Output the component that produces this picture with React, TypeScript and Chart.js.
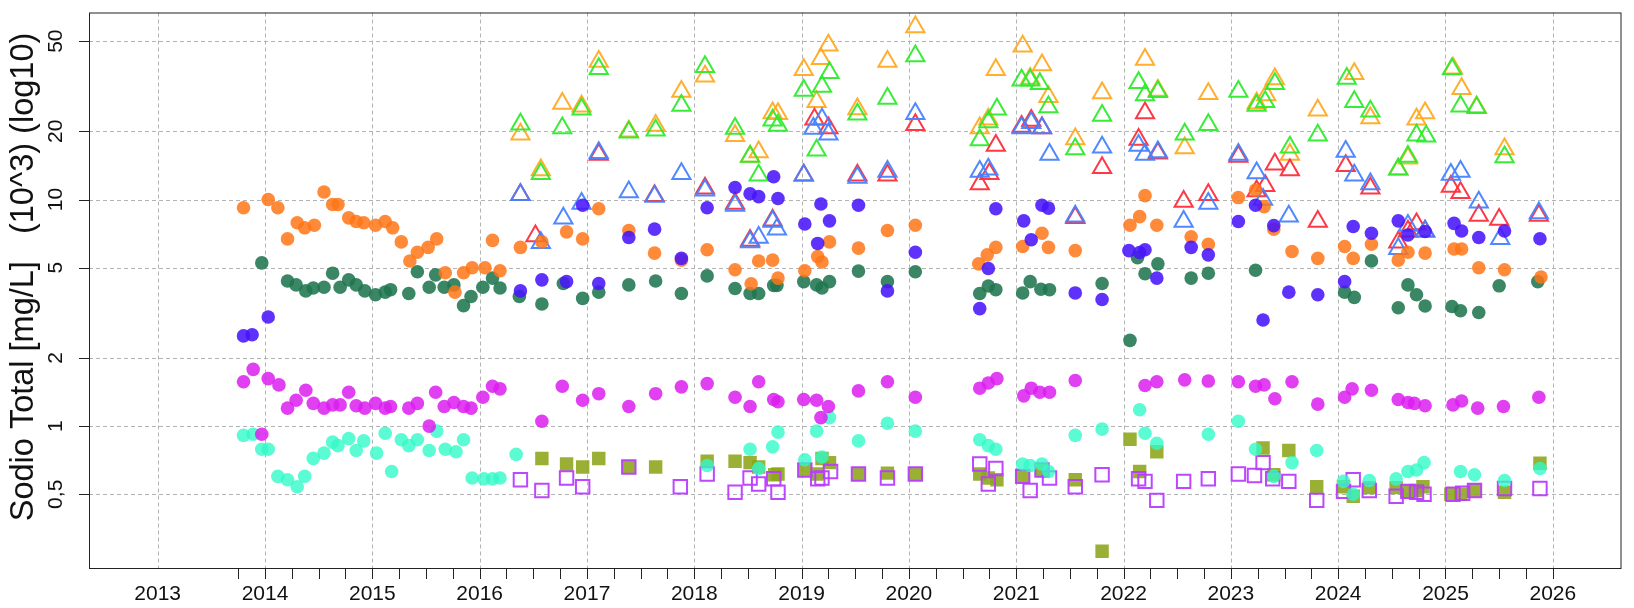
import { useEffect, useRef } from 'react';
import { Chart, registerables } from 'chart.js';

Chart.register(...registerables);

// ---- axis definitions ----
const yearTicks = [2013, 2014, 2015, 2016, 2017, 2018, 2019, 2020, 2021, 2022, 2023, 2024, 2025, 2026];
const yTickValues = [0.5, 1, 2, 5, 10, 20, 50];
const yTickLabels = ['0,5', '1', '2', '5', '10', '20', '50'];
const yTitle = 'Sodio Total [mg/L]   (10^3) (log10)';

// ---- series: orange filled circles ----
const orangeX = [2013.80, 2014.03, 2014.12, 2014.21, 2014.30, 2014.37, 2014.46, 2014.55, 2014.63, 2014.68, 2014.78, 2014.85, 2014.92, 2015.03, 2015.12, 2015.19, 2015.27, 2015.35, 2015.42, 2015.52, 2015.60, 2015.68, 2015.77, 2015.85, 2015.93, 2016.05, 2016.12, 2016.19, 2016.38, 2016.58, 2016.81, 2016.96, 2017.11, 2017.39, 2017.63, 2017.88, 2018.12, 2018.38, 2018.53, 2018.60, 2018.73, 2018.78, 2019.03, 2019.15, 2019.19, 2019.26, 2019.53, 2019.80, 2020.06, 2020.65, 2020.73, 2020.81, 2021.06, 2021.24, 2021.30, 2021.55, 2022.06, 2022.15, 2022.20, 2022.31, 2022.63, 2022.79, 2023.07, 2023.23, 2023.31, 2023.40, 2023.57, 2023.81, 2024.06, 2024.14, 2024.31, 2024.56, 2024.65, 2024.81, 2025.08, 2025.15, 2025.31, 2025.55, 2025.89];
const orangeY = [9.2, 10.0, 9.2, 6.7, 7.9, 7.5, 7.7, 10.8, 9.5, 9.5, 8.3, 8.0, 7.9, 7.7, 8.0, 7.5, 6.5, 5.35, 5.85, 6.15, 6.7, 4.75, 3.9, 4.75, 5.0, 5.0, 6.6, 4.85, 6.15, 6.5, 7.2, 6.7, 9.1, 7.3, 5.8, 5.4, 6.0, 4.9, 4.25, 5.35, 5.4, 4.5, 4.85, 5.6, 5.3, 6.5, 6.1, 7.3, 7.7, 5.2, 5.7, 6.15, 6.2, 7.1, 6.15, 5.95, 7.7, 8.4, 10.4, 7.7, 6.85, 6.35, 10.2, 11.0, 9.3, 7.4, 5.9, 5.5, 6.2, 5.5, 6.35, 5.4, 5.85, 5.8, 6.05, 6.05, 5.0, 4.9, 4.55];

// ---- series: dark green filled circles ----
const greenX = [2013.97, 2014.21, 2014.29, 2014.38, 2014.45, 2014.55, 2014.63, 2014.70, 2014.78, 2014.85, 2014.93, 2015.03, 2015.12, 2015.17, 2015.34, 2015.42, 2015.53, 2015.59, 2015.67, 2015.76, 2015.85, 2015.92, 2016.03, 2016.12, 2016.19, 2016.37, 2016.58, 2016.78, 2016.96, 2017.11, 2017.39, 2017.64, 2017.88, 2018.12, 2018.38, 2018.52, 2018.60, 2018.74, 2018.77, 2019.02, 2019.14, 2019.19, 2019.26, 2019.53, 2019.80, 2020.06, 2020.66, 2020.74, 2020.81, 2021.06, 2021.13, 2021.23, 2021.31, 2021.80, 2022.06, 2022.13, 2022.20, 2022.32, 2022.63, 2022.79, 2023.23, 2024.06, 2024.15, 2024.31, 2024.56, 2024.65, 2024.73, 2024.81, 2025.06, 2025.14, 2025.31, 2025.50, 2025.86];
const greenY = [5.25, 4.37, 4.2, 3.95, 4.07, 4.1, 4.73, 4.1, 4.42, 4.2, 3.95, 3.8, 3.9, 4.0, 3.85, 4.8, 4.1, 4.65, 4.1, 4.2, 3.4, 3.73, 4.1, 4.5, 4.07, 3.73, 3.46, 4.26, 3.66, 3.9, 4.2, 4.37, 3.85, 4.6, 4.05, 3.85, 3.85, 4.18, 4.18, 4.34, 4.2, 4.07, 4.34, 4.83, 4.34, 4.8, 3.85, 4.15, 4.0, 3.87, 4.34, 4.02, 4.0, 4.26, 2.39, 5.54, 4.7, 5.2, 4.5, 4.73, 4.87, 3.9, 3.7, 5.36, 3.33, 4.2, 3.8, 3.39, 3.37, 3.23, 3.17, 4.16, 4.34];

// ---- series: blue-violet filled circles ----
const violetX = [2013.80, 2013.88, 2014.03, 2016.38, 2016.58, 2016.81, 2016.96, 2017.11, 2017.39, 2017.63, 2017.88, 2018.12, 2018.38, 2018.52, 2018.60, 2018.74, 2018.78, 2019.03, 2019.15, 2019.18, 2019.26, 2019.53, 2019.80, 2020.06, 2020.66, 2020.74, 2020.81, 2021.07, 2021.14, 2021.24, 2021.30, 2021.55, 2021.80, 2022.05, 2022.15, 2022.20, 2022.31, 2022.63, 2022.79, 2023.07, 2023.23, 2023.30, 2023.40, 2023.54, 2023.81, 2024.06, 2024.14, 2024.31, 2024.56, 2024.65, 2024.81, 2025.08, 2025.15, 2025.31, 2025.55, 2025.88];
const violetY = [2.5, 2.53, 3.03, 3.95, 4.42, 4.34, 9.44, 4.26, 6.8, 7.4, 5.5, 9.2, 11.3, 10.6, 10.3, 12.6, 10.1, 7.8, 6.4, 9.55, 8.05, 9.44, 3.95, 5.85, 3.3, 4.96, 9.1, 8.05, 6.64, 9.44, 9.16, 3.87, 3.62, 5.95, 5.84, 6.0, 4.5, 6.15, 5.7, 8.0, 9.44, 2.94, 7.67, 3.9, 3.8, 4.34, 7.6, 7.1, 8.05, 6.97, 7.23, 7.85, 7.26, 6.8, 7.26, 6.71];

// ---- series: magenta filled circles ----
const magentaX = [2013.80, 2013.89, 2013.97, 2014.03, 2014.13, 2014.21, 2014.29, 2014.38, 2014.45, 2014.55, 2014.63, 2014.70, 2014.78, 2014.85, 2014.93, 2015.03, 2015.12, 2015.17, 2015.34, 2015.42, 2015.53, 2015.59, 2015.67, 2015.76, 2015.85, 2015.92, 2016.03, 2016.12, 2016.19, 2016.58, 2016.77, 2016.96, 2017.11, 2017.39, 2017.64, 2017.88, 2018.12, 2018.38, 2018.52, 2018.60, 2018.74, 2018.78, 2019.02, 2019.14, 2019.18, 2019.25, 2019.53, 2019.80, 2020.06, 2020.66, 2020.74, 2020.82, 2021.07, 2021.14, 2021.22, 2021.31, 2021.55, 2022.20, 2022.31, 2022.57, 2022.79, 2023.07, 2023.23, 2023.31, 2023.41, 2023.57, 2023.81, 2024.06, 2024.13, 2024.31, 2024.56, 2024.65, 2024.71, 2024.81, 2025.07, 2025.15, 2025.30, 2025.54, 2025.87];
const magentaY = [1.57, 1.78, 0.92, 1.62, 1.52, 1.2, 1.3, 1.44, 1.26, 1.2, 1.24, 1.24, 1.41, 1.23, 1.2, 1.26, 1.2, 1.22, 1.2, 1.26, 1.0, 1.41, 1.22, 1.27, 1.22, 1.2, 1.34, 1.5, 1.46, 1.05, 1.5, 1.3, 1.39, 1.22, 1.39, 1.49, 1.54, 1.34, 1.22, 1.57, 1.31, 1.28, 1.31, 1.3, 1.09, 1.22, 1.43, 1.57, 1.34, 1.47, 1.55, 1.62, 1.36, 1.47, 1.41, 1.41, 1.59, 1.51, 1.57, 1.6, 1.58, 1.57, 1.5, 1.52, 1.32, 1.57, 1.25, 1.34, 1.46, 1.44, 1.31, 1.27, 1.26, 1.23, 1.24, 1.29, 1.2, 1.22, 1.34];

// ---- series: turquoise filled circles ----
const turquoiseX = [2013.80, 2013.89, 2013.97, 2014.03, 2014.12, 2014.21, 2014.30, 2014.37, 2014.45, 2014.55, 2014.63, 2014.68, 2014.78, 2014.85, 2014.92, 2015.04, 2015.12, 2015.18, 2015.27, 2015.34, 2015.42, 2015.53, 2015.60, 2015.68, 2015.78, 2015.85, 2015.93, 2016.04, 2016.12, 2016.19, 2016.34, 2018.12, 2018.52, 2018.60, 2018.73, 2018.78, 2019.03, 2019.14, 2019.19, 2019.26, 2019.53, 2019.80, 2020.06, 2020.66, 2020.74, 2020.81, 2021.06, 2021.13, 2021.24, 2021.30, 2021.55, 2021.80, 2022.15, 2022.20, 2022.31, 2022.79, 2023.07, 2023.23, 2023.40, 2023.57, 2023.80, 2024.05, 2024.14, 2024.29, 2024.54, 2024.65, 2024.73, 2024.80, 2025.14, 2025.27, 2025.55, 2025.88];
const turquoiseY = [0.91, 0.92, 0.79, 0.79, 0.6, 0.58, 0.54, 0.6, 0.72, 0.76, 0.85, 0.82, 0.88, 0.78, 0.86, 0.76, 0.93, 0.63, 0.87, 0.82, 0.87, 0.78, 0.95, 0.79, 0.77, 0.87, 0.59, 0.585, 0.585, 0.59, 0.75, 0.67, 0.79, 0.65, 0.81, 0.94, 0.71, 0.95, 0.73, 1.09, 0.86, 1.03, 0.95, 0.87, 0.82, 0.79, 0.68, 0.67, 0.68, 0.63, 0.91, 0.97, 1.18, 0.93, 0.84, 0.92, 1.05, 0.79, 0.6, 0.69, 0.78, 0.57, 0.5, 0.575, 0.585, 0.63, 0.64, 0.69, 0.63, 0.61, 0.575, 0.65];

// ---- series: olive filled squares ----
const oliveX = [2016.58, 2016.81, 2016.96, 2017.11, 2017.39, 2017.64, 2018.12, 2018.38, 2018.52, 2018.60, 2018.75, 2018.78, 2019.03, 2019.14, 2019.19, 2019.26, 2019.53, 2019.80, 2020.06, 2020.66, 2020.74, 2020.82, 2021.06, 2021.24, 2021.55, 2021.80, 2022.06, 2022.15, 2022.31, 2023.30, 2023.40, 2023.54, 2023.80, 2024.05, 2024.14, 2024.29, 2024.54, 2024.64, 2024.73, 2024.79, 2025.05, 2025.14, 2025.27, 2025.55, 2025.88];
const oliveY = [0.72, 0.68, 0.66, 0.72, 0.66, 0.66, 0.7, 0.7, 0.69, 0.66, 0.61, 0.615, 0.64, 0.615, 0.72, 0.69, 0.615, 0.62, 0.615, 0.615, 0.59, 0.58, 0.6, 0.64, 0.58, 0.28, 0.875, 0.63, 0.77, 0.8, 0.61, 0.78, 0.54, 0.54, 0.49, 0.535, 0.535, 0.515, 0.52, 0.54, 0.5, 0.5, 0.52, 0.51, 0.685];

// ---- series: purple open squares ----
const purpleX = [2016.38, 2016.58, 2016.81, 2016.96, 2017.39, 2017.87, 2018.12, 2018.38, 2018.52, 2018.60, 2018.74, 2018.78, 2019.03, 2019.15, 2019.19, 2019.27, 2019.53, 2019.80, 2020.06, 2020.66, 2020.74, 2020.81, 2021.06, 2021.13, 2021.24, 2021.31, 2021.55, 2021.80, 2022.14, 2022.20, 2022.31, 2022.56, 2022.79, 2023.07, 2023.22, 2023.30, 2023.39, 2023.54, 2023.80, 2024.05, 2024.14, 2024.29, 2024.54, 2024.65, 2024.73, 2024.80, 2025.07, 2025.16, 2025.27, 2025.55, 2025.88];
const purpleY = [0.58, 0.52, 0.59, 0.54, 0.66, 0.54, 0.615, 0.51, 0.59, 0.555, 0.585, 0.51, 0.64, 0.585, 0.59, 0.63, 0.615, 0.59, 0.615, 0.68, 0.555, 0.65, 0.6, 0.52, 0.64, 0.59, 0.54, 0.61, 0.585, 0.57, 0.47, 0.57, 0.585, 0.615, 0.605, 0.69, 0.585, 0.57, 0.47, 0.515, 0.58, 0.52, 0.49, 0.515, 0.51, 0.5, 0.5, 0.505, 0.52, 0.53, 0.53];

// ---- series: orange open triangles ----
const triOrangeX = [2016.38, 2016.57, 2016.77, 2016.95, 2017.11, 2017.39, 2017.64, 2017.88, 2018.10, 2018.38, 2018.52, 2018.60, 2018.73, 2018.78, 2019.02, 2019.14, 2019.18, 2019.25, 2019.52, 2019.80, 2020.06, 2020.66, 2020.74, 2020.81, 2021.06, 2021.13, 2021.24, 2021.30, 2021.55, 2021.80, 2022.20, 2022.32, 2022.57, 2022.79, 2023.24, 2023.33, 2023.41, 2023.55, 2023.81, 2024.15, 2024.30, 2024.56, 2024.65, 2024.73, 2024.81, 2025.07, 2025.15, 2025.29, 2025.55];
const triOrangeY = [19.4, 13.5, 26.5, 25.8, 40.7, 20, 21.2, 30, 35, 19.1, 15.5, 16.2, 24.1, 23.9, 37.4, 27, 41.8, 47.9, 25.1, 40.7, 57.7, 20.7, 22.6, 37.4, 47.5, 34.2, 39.2, 28.4, 18.5, 29.5, 41.5, 30.3, 16.9, 29.3, 26.6, 28.9, 34, 15.8, 24.8, 35.9, 22.9, 13.6, 15.2, 22.6, 24.1, 38, 30.8, 25.6, 16.7];

// ---- series: green open triangles ----
const triGreenX = [2016.38, 2016.57, 2016.77, 2016.95, 2017.11, 2017.39, 2017.64, 2017.88, 2018.10, 2018.38, 2018.52, 2018.60, 2018.73, 2018.78, 2019.02, 2019.14, 2019.19, 2019.26, 2019.52, 2019.80, 2020.06, 2020.66, 2020.74, 2020.82, 2021.05, 2021.13, 2021.22, 2021.30, 2021.55, 2021.80, 2022.14, 2022.20, 2022.32, 2022.57, 2022.79, 2023.07, 2023.24, 2023.32, 2023.41, 2023.55, 2023.81, 2024.08, 2024.15, 2024.30, 2024.56, 2024.65, 2024.73, 2024.82, 2025.06, 2025.14, 2025.29, 2025.55];
const triGreenY = [21.5, 13.0, 20.7, 25, 37.8, 19.8, 20.2, 26, 38.5, 20.6, 15.5, 12.8, 22.4, 21.2, 30.3, 16.5, 31.5, 36.3, 23.8, 27.9, 43, 18.3, 22, 25, 33.6, 33.6, 32.4, 25.6, 16.7, 23.5, 32.8, 28.9, 29.9, 19.4, 21.4, 30, 26, 27, 32.4, 17, 19.2, 34.2, 27, 24.5, 13.6, 15.5, 19.2, 19, 37.7, 25.8, 25.4, 15.4];

// ---- series: red open triangles ----
const triRedX = [2016.38, 2016.52, 2017.11, 2017.63, 2018.10, 2018.38, 2018.52, 2018.73, 2019.02, 2019.12, 2019.25, 2019.52, 2019.80, 2020.06, 2020.66, 2020.75, 2020.81, 2021.05, 2021.14, 2021.24, 2021.55, 2021.80, 2022.14, 2022.20, 2022.32, 2022.56, 2022.79, 2023.07, 2023.24, 2023.32, 2023.41, 2023.55, 2023.81, 2024.07, 2024.30, 2024.56, 2024.65, 2024.73, 2024.81, 2025.05, 2025.14, 2025.31, 2025.50, 2025.87];
const triRedY = [10.5, 6.9, 15.8, 10.4, 11.2, 9.6, 6.6, 8.1, 12.8, 22.6, 20.7, 12.8, 12.8, 21.4, 11.7, 13, 17.3, 21, 22.3, 20.7, 8.3, 13.8, 18.4, 24.1, 16, 9.8, 10.5, 15.5, 10.9, 11.5, 14.3, 13.5, 8.0, 14.1, 11.2, 6.48, 7.24, 7.8, 7.24, 11.4, 10.7, 8.49, 8.17, 8.49];

// ---- series: blue open triangles ----
const triBlueX = [2016.38, 2016.57, 2016.78, 2016.95, 2017.11, 2017.39, 2017.63, 2017.88, 2018.10, 2018.38, 2018.52, 2018.60, 2018.73, 2018.77, 2019.02, 2019.11, 2019.19, 2019.25, 2019.52, 2019.80, 2020.06, 2020.66, 2020.74, 2021.05, 2021.14, 2021.24, 2021.31, 2021.55, 2021.80, 2022.14, 2022.20, 2022.32, 2022.56, 2022.79, 2023.07, 2023.24, 2023.30, 2023.54, 2024.07, 2024.15, 2024.30, 2024.56, 2024.65, 2024.81, 2025.05, 2025.14, 2025.31, 2025.51, 2025.87];
const triBlueY = [10.5, 6.44, 8.27, 9.6, 16.1, 10.8, 10.3, 13.0, 11.0, 9.4, 6.5, 6.8, 8.0, 7.4, 12.8, 20.6, 22.6, 19.4, 12.5, 13.3, 23.9, 13.3, 13.6, 20.7, 21.8, 20.7, 15.8, 8.43, 17, 17.3, 15.8, 16.2, 8.0, 9.6, 15.8, 13.1, 10.0, 8.43, 16.3, 12.8, 11.7, 6.06, 7.67, 7.24, 12.9, 13.3, 9.73, 6.71, 8.72];

const X_MIN = 2012.36;
const X_MAX = 2026.64;
const Y_MIN = 0.234;
const Y_MAX = 66.9;
const FONT = '"Liberation Sans", Arial, sans-serif';

function pts(xs: number[], ys: number[]) {
  return xs.map((x, i) => ({ x, y: ys[i] }));
}

function circle(label: string, xs: number[], ys: number[], color: string) {
  return {
    label,
    data: pts(xs, ys),
    pointStyle: 'circle',
    pointRadius: 6.8,
    pointBorderWidth: 0,
    pointBackgroundColor: color,
    pointBorderColor: color,
    backgroundColor: color,
    borderColor: color,
  };
}

function openShape(label: string, xs: number[], ys: number[], color: string, style: string, r: number) {
  return {
    label,
    data: pts(xs, ys),
    pointStyle: style,
    pointRadius: r,
    pointBorderWidth: 2,
    pointBackgroundColor: 'rgba(0,0,0,0)',
    pointBorderColor: color,
    backgroundColor: 'rgba(0,0,0,0)',
    borderColor: color,
  };
}

const decoPlugin = {
  id: 'rDeco',
  beforeDatasetsDraw(chart: any) {
    const { ctx, chartArea: a, scales } = chart;
    const x = scales.x;
    const y = scales.y;
    ctx.save();
    ctx.strokeStyle = '#b3b3b3';
    ctx.lineWidth = 1;
    ctx.setLineDash([4, 3]);
    for (const v of yearTicks) {
      const px = Math.round(x.getPixelForValue(v)) + 0.5;
      ctx.beginPath();
      ctx.moveTo(px, a.top);
      ctx.lineTo(px, a.bottom);
      ctx.stroke();
    }
    for (const v of yTickValues) {
      const py = Math.round(y.getPixelForValue(v)) + 0.5;
      ctx.beginPath();
      ctx.moveTo(a.left, py);
      ctx.lineTo(a.right, py);
      ctx.stroke();
    }
    ctx.restore();
  },
  afterDraw(chart: any) {
    const { ctx, chartArea: a, scales } = chart;
    const x = scales.x;
    const y = scales.y;
    ctx.save();
    ctx.setLineDash([]);
    ctx.strokeStyle = '#222';
    ctx.lineWidth = 1;
    ctx.strokeRect(a.left + 0.5, a.top + 0.5, a.right - a.left - 1, a.bottom - a.top - 1);
    // x minor ticks (quarters)
    ctx.beginPath();
    for (let k = 0; k <= 49; k++) {
      const v = 2013.75 + k * 0.25;
      const px = Math.round(x.getPixelForValue(v)) + 0.5;
      ctx.moveTo(px, a.bottom);
      ctx.lineTo(px, a.bottom + 10);
    }
    // y ticks
    for (const v of yTickValues) {
      const py = Math.round(y.getPixelForValue(v)) + 0.5;
      ctx.moveTo(a.left - 10, py);
      ctx.lineTo(a.left, py);
    }
    ctx.stroke();
    // x labels
    ctx.fillStyle = '#111';
    ctx.font = '21px ' + FONT;
    ctx.textAlign = 'center';
    ctx.textBaseline = 'middle';
    for (const v of yearTicks) {
      ctx.fillText(String(v), x.getPixelForValue(v), a.bottom + 25);
    }
    // y labels (rotated)
    yTickValues.forEach((v, i) => {
      const py = y.getPixelForValue(v);
      ctx.save();
      ctx.translate(a.left - 33, py);
      ctx.rotate(-Math.PI / 2);
      ctx.fillText(yTickLabels[i], 0, 0);
      ctx.restore();
    });
    // y title
    ctx.save();
    ctx.font = '32.5px ' + FONT;
    ctx.translate(24, 277);
    ctx.rotate(-Math.PI / 2);
    ctx.fillText(yTitle, 0, 0);
    ctx.restore();
    ctx.restore();
  },
};

export default function App() {
  const ref = useRef<HTMLCanvasElement | null>(null);
  useEffect(() => {
    document.body.style.margin = '0';
    const canvas = ref.current;
    if (!canvas) return;
    const chart = new Chart(canvas, {
      type: 'scatter',
      data: {
        datasets: [
          circle('Violeta', violetX, violetY, 'rgba(72,22,250,0.88)') as any,
          circle('Naranja', orangeX, orangeY, 'rgba(255,118,22,0.85)') as any,
          circle('Verde', greenX, greenY, 'rgba(32,118,80,0.88)') as any,
          circle('Magenta', magentaX, magentaY, 'rgba(220,30,240,0.85)') as any,
          circle('Turquesa', turquoiseX, turquoiseY, 'rgba(50,250,200,0.8)') as any,
          openShape('Púrpura', purpleX, purpleY, 'rgba(185,60,255,0.95)', 'rect', 9.5) as any,
          {
            label: 'Oliva',
            data: pts(oliveX, oliveY),
            pointStyle: 'rect',
            pointRadius: 9.5,
            pointBorderWidth: 0,
            pointBackgroundColor: 'rgba(140,165,25,0.88)',
            backgroundColor: 'rgba(140,165,25,0.88)',
            borderColor: 'rgba(140,165,25,0.88)',
          } as any,
          openShape('Triángulo azul', triBlueX, triBlueY, 'rgba(70,130,255,0.95)', 'triangle', 10.5) as any,
          openShape('Triángulo rojo', triRedX, triRedY, 'rgba(255,45,60,0.95)', 'triangle', 10.5) as any,
          openShape('Triángulo verde', triGreenX, triGreenY, 'rgba(45,235,45,0.95)', 'triangle', 10.5) as any,
          openShape('Triángulo naranja', triOrangeX, triOrangeY, 'rgba(255,170,35,0.95)', 'triangle', 10.5) as any,
        ],
      },
      options: {
        animation: false,
        responsive: false,
        maintainAspectRatio: false,
        events: [],
        layout: { padding: { left: 89, right: 2, top: 6, bottom: 39 } },
        plugins: { legend: { display: false }, tooltip: { enabled: false }, title: { display: false } },
        scales: {
          x: {
            type: 'linear',
            display: false,
            min: X_MIN,
            max: X_MAX,
          },
          y: {
            type: 'logarithmic',
            display: false,
            min: Y_MIN,
            max: Y_MAX,
          },
        },
      },
      plugins: [decoPlugin],
    });
    return () => chart.destroy();
  }, []);
  return (
    <div style={{ position: 'fixed', left: 0, top: 0, width: 1634, height: 608, background: '#fff' }}>
      <canvas ref={ref} width={1634} height={608} style={{ display: 'block', width: 1634, height: 608 }} />
    </div>
  );
}
